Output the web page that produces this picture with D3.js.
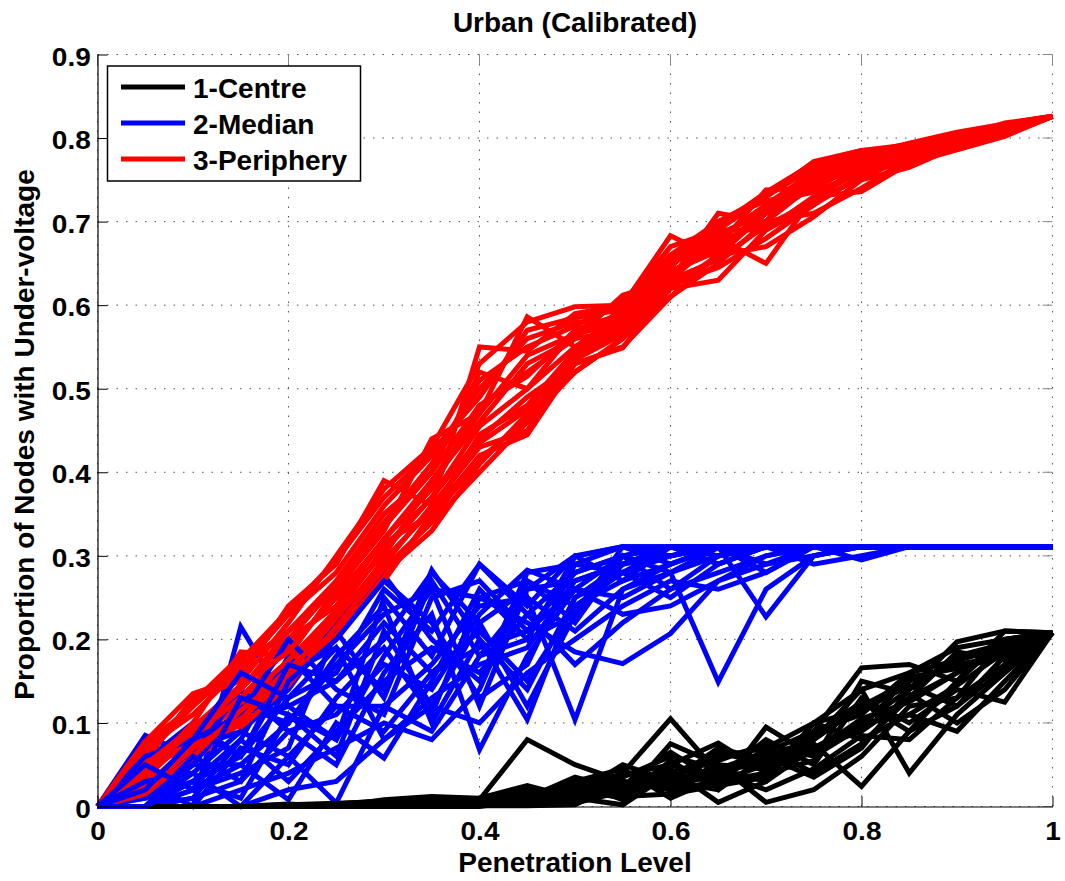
<!DOCTYPE html>
<html><head><meta charset="utf-8">
<script src="https://cdn.jsdelivr.net/npm/d3@7"></script>
<style>html,body{margin:0;padding:0;background:#fff;} svg{display:block;} text{font-family:"Liberation Sans",Arial,Helvetica,sans-serif;}</style>
</head><body><svg id="chart" width="1065" height="881"></svg>
<script>
const penetration = [0,0.05,0.1,0.15,0.2,0.25,0.3,0.35,0.4,0.45,0.5,0.55,0.6,0.65,0.7,0.75,0.8,0.85,0.9,0.95,1];
const xTickValues = [0,0.2,0.4,0.6,0.8,1];
const yTickValues = [0,0.1,0.2,0.3,0.4,0.5,0.6,0.7,0.8,0.9];
const legendLabels = ["1-Centre","2-Median","3-Periphery"];
const chartTitle = "Urban (Calibrated)";
const xLabel = "Penetration Level";
const yLabel = "Proportion of Nodes with Under-voltage";

const centreRuns = [
[0,0,0,0,0,0,.005,.01,.008,.08,.05,.03,.02,.03,.05,.07,.09,.13,.16,.19,.208],
[0,0,0,0,.003,0,.008,.012,.01,.025,.01,.04,.105,.04,.06,.08,.12,.15,.17,.18,.208],
[0,0,0,0,0,0,.002,.004,.005,.01,.035,.02,.05,.076,.04,.09,.166,.17,.15,.20,.208],
[0,0,0,0,0,0,0,.003,.004,.005,.015,.05,.03,.02,.095,.06,.10,.14,.197,.21,.208],
[0,0,0,0,0,0,.004,.006,.002,.01,.02,.01,.075,.05,.005,.02,.06,.12,.13,.17,.208],
[0,0,0,0,.002,.004,.006,.008,.01,.015,.005,.025,.04,.06,.07,.10,.14,.04,.11,.16,.208],
[0,0,0,0,0,0,.003,.005,.006,.002,.012,.035,.06,.045,.065,.09,.11,.16,.19,.2,.208],
[0,0,0,0,0,0,0,0,0,.008,.025,.015,.03,.07,.055,.075,.024,.09,.12,.18,.208],
[0,0,0,0,0,.003,.007,.009,.004,.012,.03,.045,.01,.035,.08,.05,.13,.10,.14,.125,.208],
[0,0,0,0,0,0,.001,.002,.003,.006,.008,.02,.045,.005,.03,.1,.08,.11,.09,.15,.208],
[0,0,0,0,.001,.002,.004,.007,.008,.02,.018,.04,.025,.05,.045,.065,.105,.125,.16,.19,.208],
[0,0,0,0,0,0,.002,.003,.002,.004,.03,.008,.055,.02,.06,.035,.07,.14,.18,.195,.208],
[0,0,0,0,0,0,0,.001,.001,.001,.002,.03,.02,.065,.05,.085,.125,.09,.15,.21,.208],
[0,0,0,0,0,.001,.003,.005,.007,.01,.015,.025,.065,.03,.04,.055,.15,.135,.10,.14,.208],
[0,0,0,0,0,0,.005,.008,.006,.003,.01,.002,.04,.055,.075,.06,.095,.155,.165,.18,.208],
[0,0,0,0,0,0,.001,.004,.01,.015,.004,.018,.035,.04,.02,.045,.085,.08,.13,.2,.208],
[0,0,0,0,0,0,0,.002,.003,.007,.02,.012,.015,.025,.035,.1,.115,.145,.12,.165,.208],
[0,0,0,0,0,0,.003,.006,.005,.009,.028,.038,.05,.03,.07,.04,.075,.13,.185,.175,.208],
[0,0,0,0,0,0,.002,.003,.004,.006,.012,.022,.028,.045,.03,.07,.1,.11,.145,.185,.208],
[0,0,0,0,0,0,.001,.002,.003,.005,.009,.028,.025,.038,.058,.08,.14,.16,.175,.19,.208]
];

const medianRuns = [
[0,.085,.06,.10,.12,.15,.20,.28,.22,.26,.30,.311,.311,.311,.311,.311,.311,.311,.311,.311,.311],
[0,0,0,.215,.12,.08,.25,.18,.29,.23,.28,.30,.311,.29,.311,.311,.311,.311,.311,.311,.311],
[0,.055,.10,.06,.16,.19,.14,.283,.20,.104,.25,.29,.30,.311,.28,.311,.311,.311,.311,.311,.311],
[0,0,.02,.05,.008,.10,.058,.15,.26,.20,.299,.311,.30,.311,.311,.311,.311,.311,.311,.311,.311],
[0,0,.04,0,.06,.004,.12,.09,.18,.25,.104,.26,.29,.31,.311,.311,.311,.311,.311,.311,.311],
[0,.02,.07,.09,.14,.22,.277,.20,.15,.28,.29,.28,.311,.311,.311,.311,.311,.311,.311,.311,.311],
[0,0,.01,.03,.09,.05,.16,.23,.068,.18,.26,.30,.28,.149,.26,.30,.311,.311,.311,.311,.311],
[0,.03,0,.07,.05,.13,.19,.11,.25,.22,.185,.171,.207,.27,.30,.311,.311,.311,.311,.311,.311],
[0,0,.05,.12,.10,.17,.23,.26,.12,.26,.27,.29,.31,.311,.227,.30,.311,.311,.311,.311,.311],
[0,.01,.03,.08,.18,.12,.09,.16,.21,.15,.24,.28,.25,.29,.311,.311,.311,.311,.311,.311,.311],
[0,0,0,.02,.04,.07,.10,.08,.14,.27,.22,.30,.26,.30,.31,.311,.311,.311,.311,.311,.311],
[0,.04,.09,.06,.13,.16,.26,.21,.29,.24,.30,.27,.311,.30,.311,.29,.30,.311,.311,.311,.311],
[0,0,.02,.04,.07,.21,.13,.27,.18,.20,.23,.311,.29,.311,.311,.311,.311,.311,.311,.311,.311],
[0,.02,.06,.14,.09,.11,.17,.14,.23,.283,.26,.25,.28,.31,.311,.311,.311,.311,.311,.311,.311],
[0,0,.03,.01,.11,.06,.21,.12,.10,.16,.20,.24,.27,.26,.28,.311,.311,.311,.311,.311,.311],
[0,.06,.08,.11,.20,.14,.11,.25,.27,.21,.28,.30,.311,.311,.29,.311,.311,.311,.311,.311,.311],
[0,0,.01,.08,.03,.09,.15,.19,.16,.23,.17,.22,.26,.28,.30,.311,.311,.311,.311,.311,.311],
[0,.01,.05,.05,.10,.18,.24,.10,.20,.14,.25,.28,.30,.311,.311,.311,.311,.311,.311,.311,.311],
[0,0,0,0,.02,.03,.08,.13,.17,.19,.27,.29,.311,.29,.311,.311,.295,.311,.311,.311,.311],
[0,.03,.04,.09,.06,.12,.12,.17,.24,.25,.21,.26,.28,.30,.311,.311,.311,.311,.311,.311,.311],
[0,0,.06,.03,.15,.20,.27,.22,.13,.17,.29,.311,.311,.311,.311,.311,.311,.311,.311,.311,.311],
[0,.05,.02,.13,.11,.08,.18,.26,.25,.27,.24,.27,.29,.311,.311,.311,.311,.311,.311,.311,.311],
[0,0,.03,.06,.17,.15,.22,.16,.19,.21,.26,.23,.24,.27,.29,.30,.311,.311,.311,.311,.311],
[0,.02,.08,.16,.13,.19,.08,.12,.22,.12,.23,.29,.311,.30,.311,.311,.311,.311,.311,.311,.311]
];

const peripheryRuns = [
[0,.078,.135,.155,.24,.29,.39,.36,.55,.545,.59,.60,.683,.655,.72,.76,.78,.79,.80,.815,.826],
[0,.03,.10,.185,.18,.26,.33,.44,.47,.586,.55,.58,.63,.71,.70,.77,.785,.78,.805,.81,.826],
[0,.05,.07,.11,.16,.22,.29,.36,.43,.45,.54,.60,.64,.67,.738,.74,.77,.79,.80,.81,.826],
[0,.02,.055,.10,.15,.20,.28,.33,.41,.47,.52,.56,.62,.66,.71,.75,.76,.787,.79,.805,.826],
[0,.06,.12,.17,.21,.27,.35,.40,.52,.50,.57,.59,.65,.69,.69,.72,.775,.78,.80,.818,.826],
[0,.04,.09,.13,.19,.25,.30,.39,.46,.53,.56,.612,.63,.68,.65,.73,.76,.785,.795,.81,.826],
[0,.012,.06,.12,.17,.23,.31,.37,.44,.49,.53,.55,.61,.65,.70,.71,.74,.775,.79,.805,.826],
[0,.07,.11,.165,.23,.28,.36,.42,.50,.56,.58,.58,.66,.70,.73,.765,.78,.794,.807,.817,.826],
[0,.045,.08,.14,.20,.24,.32,.38,.48,.52,.56,.57,.64,.67,.71,.74,.77,.79,.80,.81,.826],
[0,.03,.065,.11,.165,.21,.27,.35,.42,.445,.53,.549,.62,.63,.69,.73,.736,.77,.786,.802,.826],
[0,.055,.13,.15,.22,.30,.38,.43,.53,.58,.598,.60,.67,.69,.73,.772,.785,.792,.805,.815,.826],
[0,.025,.075,.125,.175,.235,.305,.37,.455,.50,.55,.59,.65,.675,.70,.745,.765,.785,.80,.812,.826],
[0,.04,.10,.095,.145,.215,.285,.34,.40,.46,.52,.56,.61,.66,.67,.706,.75,.765,.79,.805,.826],
[0,.065,.125,.18,.20,.265,.34,.41,.51,.55,.575,.605,.66,.68,.72,.75,.775,.79,.80,.81,.826],
[0,.035,.085,.13,.19,.25,.32,.39,.47,.54,.565,.58,.635,.685,.71,.755,.78,.782,.795,.808,.826],
[0,.05,.095,.145,.185,.255,.315,.35,.445,.48,.545,.575,.645,.70,.725,.735,.76,.78,.797,.812,.826],
[0,.02,.07,.105,.155,.205,.275,.345,.415,.465,.535,.565,.625,.645,.68,.72,.755,.775,.79,.806,.826],
[0,.075,.12,.175,.235,.295,.37,.425,.49,.57,.585,.595,.655,.695,.735,.77,.782,.79,.803,.816,.826],
[0,.045,.09,.14,.21,.26,.335,.40,.48,.515,.57,.585,.64,.665,.715,.745,.77,.786,.80,.81,.826],
[0,.015,.06,.115,.16,.225,.295,.355,.435,.475,.54,.57,.63,.655,.695,.725,.752,.778,.792,.807,.826]
];

const svg = d3.select("#chart");
const L = 97.5, R = 1052.5, T = 54.5, B = 806.5;
const x = d3.scaleLinear().domain([0,1]).range([L,R]);
const y = d3.scaleLinear().domain([0,0.9]).range([B,T]);
const fmt = d => String(+d.toFixed(1));
const colors = ["#000000","#0000ff","#ff0000"];
const seriesRuns = [centreRuns, medianRuns, peripheryRuns];

// grid
const grid = svg.append("g");
xTickValues.forEach(v => {
  grid.append("line").attr("x1",x(v)).attr("x2",x(v)).attr("y1",T).attr("y2",B)
    .attr("stroke", "#555").attr("stroke-width",1).attr("stroke-dasharray","1.5,8");
});
yTickValues.forEach(v => {
  grid.append("line").attr("x1",L).attr("x2",R).attr("y1",y(v)).attr("y2",y(v))
    .attr("stroke", "#555").attr("stroke-width",1).attr("stroke-dasharray","1.5,8");
});
// top/right ticks
xTickValues.forEach(v => {
  svg.append("line").attr("x1",x(v)).attr("x2",x(v)).attr("y1",T).attr("y2",T+10).attr("stroke","#888").attr("stroke-width",1);
});
yTickValues.forEach(v => {
  svg.append("line").attr("x1",R).attr("x2",R-10).attr("y1",y(v)).attr("y2",y(v)).attr("stroke","#888").attr("stroke-width",1);
});

// lines (interleaved runs)
const lineGen = d3.line().x((d,i) => x(penetration[i])).y(d => y(d));
const plot = svg.append("g");
const maxRuns = d3.max(seriesRuns, s => s.length);
for (let r = 0; r < maxRuns; r++) {
  seriesRuns.forEach((runs, s) => {
    if (r < runs.length) {
      plot.append("path").datum(runs[r]).attr("d", lineGen)
        .attr("fill","none").attr("stroke",colors[s]).attr("stroke-width",5)
        .attr("stroke-linejoin","miter").attr("stroke-miterlimit",4);
    }
  });
}

// axes
const xAxis = svg.append("g").attr("transform",`translate(0,${B})`)
  .call(d3.axisBottom(x).tickValues(xTickValues).tickFormat(fmt).tickSizeInner(-10).tickSizeOuter(0).tickPadding(15.5));
const yAxis = svg.append("g").attr("transform",`translate(${L},0)`)
  .call(d3.axisLeft(y).tickValues(yTickValues).tickFormat(fmt).tickSizeInner(-10).tickSizeOuter(0).tickPadding(6));
[xAxis, yAxis].forEach(a => {
  a.select(".domain").attr("stroke","#000").attr("stroke-width",1.2);
  a.selectAll(".tick line").attr("stroke","#000").attr("stroke-width",1);
  a.selectAll(".tick text").attr("font-size",25).attr("font-weight","bold").attr("fill","#000")
    .attr("font-family","'Liberation Sans', Arial, sans-serif");
});
xAxis.selectAll(".tick text").attr("transform","scale(1.12,1)");
yAxis.selectAll(".tick text").attr("dy","0.42em").attr("transform","scale(1.12,1)");

// titles
svg.append("text").attr("x",(L+R)/2).attr("y",32).attr("text-anchor","middle")
  .attr("font-size",28).attr("font-weight","bold").text(chartTitle);
svg.append("text").attr("x",(L+R)/2).attr("y",872).attr("text-anchor","middle")
  .attr("font-size",28).attr("font-weight","bold").text(xLabel);
svg.append("text").attr("transform",`translate(34,${(T+B)/2 + 4}) rotate(-90)`).attr("text-anchor","middle")
  .attr("font-size",28).attr("font-weight","bold").text(yLabel);

// legend
const lg = svg.append("g");
lg.append("rect").attr("x",107.5).attr("y",66).attr("width",253).attr("height",115)
  .attr("fill","#fff").attr("stroke","#000").attr("stroke-width",1.5);
legendLabels.forEach((lab,i) => {
  const cy = 87 + i*36;
  lg.append("line").attr("x1",121).attr("x2",185).attr("y1",cy).attr("y2",cy)
    .attr("stroke",colors[i]).attr("stroke-width",5);
  lg.append("text").attr("x",193).attr("y",cy+11).attr("font-size",28).attr("font-weight","bold").text(lab);
});
</script></body></html>
